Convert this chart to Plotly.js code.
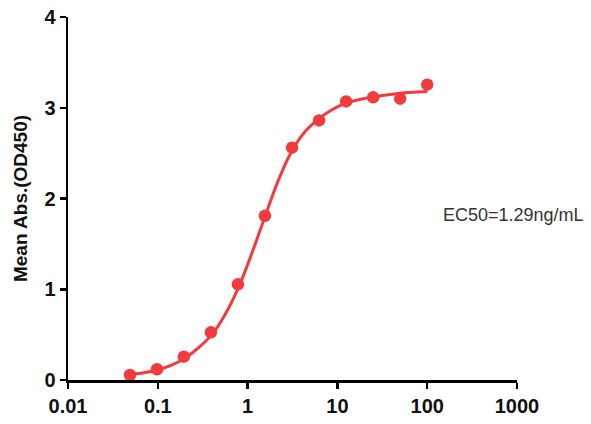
<!DOCTYPE html>
<html>
<head>
<meta charset="utf-8">
<script src="https://cdn.plot.ly/plotly-3.0.1.min.js"></script>
<style>html,body{margin:0;padding:0;background:#fff;}#chart{width:591px;height:424px;}</style>
</head>
<body>
<div id="chart"></div>
<script>
// Measured points
const concentration = [0.049, 0.098, 0.195, 0.39, 0.78, 1.56, 3.125, 6.25, 12.5, 25, 50, 100];
const meanAbs = [0.055, 0.118, 0.257, 0.525, 1.054, 1.81, 2.56, 2.86, 3.07, 3.115, 3.10, 3.254];

// Fitted curve
const curveX = [0.049, 0.07, 0.1, 0.14, 0.2, 0.28, 0.4, 0.56, 0.8, 1.1, 1.56, 2.2, 3.1, 4.4, 6.25, 8.8, 12.5, 17.7, 25, 35, 50, 70, 100];
const curveY = [0.06, 0.08, 0.11, 0.16, 0.24, 0.35, 0.50, 0.72, 1.03, 1.38, 1.80, 2.20, 2.52, 2.74, 2.88, 2.98, 3.05, 3.09, 3.12, 3.14, 3.16, 3.17, 3.18];

const xTickVals = [0.01, 0.1, 1, 10, 100, 1000];
const xTickText = ["0.01", "0.1", "1", "10", "100", "1000"];
const yTickVals = [0, 1, 2, 3, 4];
const ec50Label = "EC50=1.29ng/mL";

const red = "#f23a3f";

const traces = [
  {x: curveX, y: curveY, mode: "lines", type: "scatter",
   line: {color: red, width: 3, shape: "spline"}, hoverinfo: "skip", showlegend: false},
  {x: concentration, y: meanAbs, mode: "markers", type: "scatter",
   marker: {color: red, size: 12.5}, showlegend: false}
];

const tickFont = {family: "Liberation Sans, Arial, sans-serif", size: 20, color: "#111", weight: "bold"};

const layout = {
  width: 591, height: 424,
  margin: {l: 68, r: 74, t: 17, b: 44, pad: 0},
  paper_bgcolor: "#fff", plot_bgcolor: "#fff",
  showlegend: false,
  xaxis: {
    type: "log", range: [-2, 3],
    tickvals: xTickVals, ticktext: xTickText,
    ticks: "outside", ticklen: 6, tickwidth: 2.5, tickcolor: "#000",
    showline: true, linecolor: "#000", linewidth: 2.5,
    showgrid: false, zeroline: false,
    tickfont: tickFont
  },
  yaxis: {
    range: [0, 4],
    tickvals: yTickVals,
    ticks: "outside", ticklen: 6, tickwidth: 2.5, tickcolor: "#000",
    showline: true, linecolor: "#000", linewidth: 2.5,
    showgrid: false, zeroline: false,
    tickfont: tickFont,
    title: {text: "Mean Abs.(OD450)", font: {family: "Liberation Sans, Arial, sans-serif", size: 19, color: "#111", weight: "bold"}, standoff: 12}
  },
  annotations: [{
    text: ec50Label, xref: "paper", yref: "paper",
    x: 0.83, y: 0.4545, xanchor: "left", yanchor: "middle",
    showarrow: false,
    font: {family: "Liberation Sans, Arial, sans-serif", size: 18, color: "#333"}
  }]
};

Plotly.newPlot("chart", traces, layout, {displayModeBar: false, staticPlot: true});
</script>
</body>
</html>
